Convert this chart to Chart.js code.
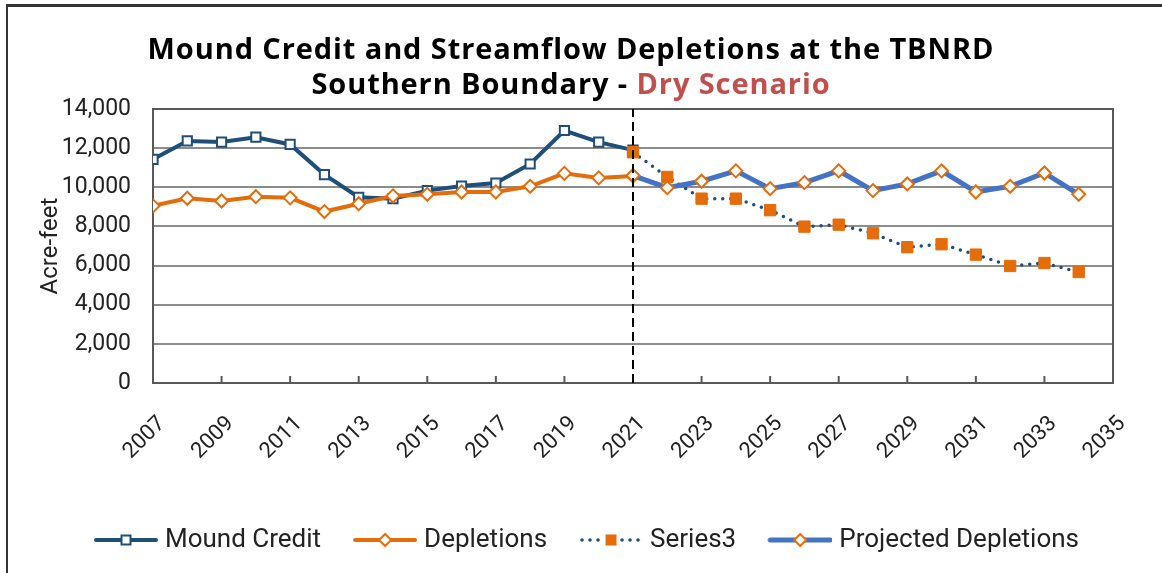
<!DOCTYPE html>
<html>
<head>
<meta charset="utf-8">
<script src="https://cdn.jsdelivr.net/npm/chart.js@4.4.1/dist/chart.umd.min.js"></script>
<style>
    html, body { margin: 0; padding: 0; background: #fff; }
    #wrap { position: relative; width: 1162px; height: 573px; overflow: hidden; background: #fff; }
    #chart { position: absolute; left: 0; top: 0; }
    #frame {
        position: absolute; left: 6px; top: 4px; width: 1200px; height: 600px;
        border-left: 2px solid #333; border-top: 3px solid #333;
        pointer-events: none;
    }
    #title {
        position: absolute; left: 0; top: 30px; width: 1142px; text-align: center;
        font-family: "Open Sans", sans-serif; font-weight: 700; font-size: 29px; line-height: 35px;
        letter-spacing: 0.9px; color: #000;
    }
    #title .dry { color: #C0504D; }
</style>
</head>
<body>
<div id="wrap">
    <canvas id="chart" width="1162" height="573"></canvas>
    <div id="title">Mound Credit and Streamflow Depletions at the TBNRD<br>Southern Boundary - <span class="dry">Dry Scenario</span></div>
    <div id="frame"></div>
</div>
<script>
// historical years and values
const YEARS_HIST = [2007, 2008, 2009, 2010, 2011, 2012, 2013, 2014, 2015, 2016, 2017, 2018, 2019, 2020, 2021];
const MOUND_CREDIT = [11430, 12370, 12310, 12560, 12190, 10650, 9490, 9420, 9830, 10060, 10220, 11190, 12900, 12310, 11900];
const DEPLETIONS = [9050, 9440, 9300, 9520, 9460, 8760, 9160, 9560, 9640, 9760, 9760, 10050, 10710, 10480, 10580];

// projection years and values
const YEARS_PROJ = [2021, 2022, 2023, 2024, 2025, 2026, 2027, 2028, 2029, 2030, 2031, 2032, 2033, 2034];
const SERIES3 = [11790, 10530, 9420, 9420, 8830, 7990, 8090, 7650, 6940, 7090, 6560, 5980, 6130, 5670];
const PROJECTED = [10600, 9980, 10310, 10840, 9930, 10240, 10840, 9830, 10170, 10840, 9760, 10050, 10730, 9640];

// axis settings
const X_MIN = 2007, X_MAX = 2035, X_STEP = 2;
const Y_MIN = 0, Y_MAX = 14000, Y_STEP = 2000;
const DIVIDER_YEAR = 2021;

const NAVY = '#1F4E79';
const ORANGE = '#E46C0A';
const BLUE = '#4472C4';

const toPoints = (years, values) => years.map((yr, i) => ({ x: yr, y: values[i] }));

// legend symbol: line with marker in the middle, with empty space on the left as item gap
const ICON_GAP = 36, ICON_W = 64, ICON_PULL = 12;
function legendSymbol(kind) {
    const w = ICON_W, h = 22, gap = ICON_GAP;
    const cv = document.createElement('canvas');
    cv.width = gap + w;
    cv.height = h;
    const c = cv.getContext('2d');
    const cy = h / 2, cx = gap + w / 2;
    c.lineCap = 'round';
    if (kind === 'series3') {
        c.fillStyle = NAVY;
        for (let x = gap + 3; x < gap + w; x += 8) {
            if (Math.abs(x - cx) < 9) continue;
            c.beginPath();
            c.arc(x, cy, 1.8, 0, Math.PI * 2);
            c.fill();
        }
        c.fillStyle = ORANGE;
        c.fillRect(cx - 5.5, cy - 5.5, 11, 11);
        return cv;
    }
    const color = kind === 'mound' ? NAVY : kind === 'depl' ? ORANGE : BLUE;
    c.strokeStyle = color;
    c.lineWidth = kind === 'proj' ? 5 : 4;
    c.beginPath();
    c.moveTo(gap + 2, cy);
    c.lineTo(gap + w - 2, cy);
    c.stroke();
    c.fillStyle = '#fff';
    c.lineWidth = 2;
    if (kind === 'mound') {
        c.strokeStyle = NAVY;
        c.fillRect(cx - 4.5, cy - 4.5, 9, 9);
        c.strokeRect(cx - 4.5, cy - 4.5, 9, 9);
    } else {
        c.strokeStyle = ORANGE;
        c.beginPath();
        c.moveTo(cx, cy - 6);
        c.lineTo(cx + 6, cy);
        c.lineTo(cx, cy + 6);
        c.lineTo(cx - 6, cy);
        c.closePath();
        c.fill();
        c.stroke();
    }
    return cv;
}

const LEGEND_ICONS = [legendSymbol('mound'), legendSymbol('depl'), legendSymbol('series3'), legendSymbol('proj')];

// plot border and small inward tick marks on the bottom axis
const plotFrame = {
    id: 'plotFrame',
    beforeDatasetsDraw(chart) {
        const { ctx, chartArea } = chart;
        const xScale = chart.scales.x;
        ctx.save();
        ctx.strokeStyle = '#595959';
        ctx.lineWidth = 2;
        ctx.strokeRect(chartArea.left, chartArea.top, chartArea.right - chartArea.left, chartArea.bottom - chartArea.top);
        ctx.beginPath();
        xScale.ticks.forEach(t => {
            if (t.value === X_MIN || t.value === X_MAX) return;
            const px = xScale.getPixelForValue(t.value);
            ctx.moveTo(px, chartArea.bottom);
            ctx.lineTo(px, chartArea.bottom - 7);
        });
        ctx.stroke();
        ctx.restore();
    }
};

const ctx = document.getElementById('chart').getContext('2d');
const chart = new Chart(ctx, {
    type: 'line',
    data: {
        datasets: [
            {
                label: 'Mound Credit',
                data: toPoints(YEARS_HIST, MOUND_CREDIT),
                borderColor: NAVY,
                borderWidth: 4,
                pointStyle: 'rect',
                pointRadius: 6.5,
                pointBackgroundColor: '#fff',
                pointBorderColor: NAVY,
                pointBorderWidth: 2,
                order: 4
            },
            {
                label: 'Depletions',
                data: toPoints(YEARS_HIST, DEPLETIONS),
                borderColor: ORANGE,
                borderWidth: 4,
                pointStyle: 'rectRot',
                pointRadius: 6.5,
                pointBackgroundColor: '#fff',
                pointBorderColor: ORANGE,
                pointBorderWidth: 2,
                order: 3
            },
            {
                label: 'Series3',
                data: toPoints(YEARS_PROJ, SERIES3),
                borderColor: NAVY,
                borderWidth: 3.5,
                borderDash: [0, 8],
                borderCapStyle: 'round',
                pointStyle: 'rect',
                pointRadius: 8,
                pointBackgroundColor: ORANGE,
                pointBorderColor: ORANGE,
                pointBorderWidth: 1,
                order: 2
            },
            {
                label: 'Projected Depletions',
                data: toPoints(YEARS_PROJ, PROJECTED),
                borderColor: BLUE,
                borderWidth: 5,
                pointStyle: 'rectRot',
                pointRadius: 6.5,
                pointBackgroundColor: '#fff',
                pointBorderColor: ORANGE,
                pointBorderWidth: 2,
                order: 1
            },
            {
                label: 'divider',
                data: [{ x: DIVIDER_YEAR, y: Y_MIN }, { x: DIVIDER_YEAR, y: Y_MAX }],
                borderColor: '#000',
                borderWidth: 2,
                borderDash: [9, 5],
                pointRadius: 0,
                order: 0
            }
        ]
    },
    options: {
        responsive: false,
        animation: false,
        layout: { padding: { left: 30, right: 49, top: 109, bottom: 10 } },
        elements: { line: { tension: 0 } },
        plugins: {
            title: { display: false },
            tooltip: { enabled: false },
            legend: {
                position: 'bottom',
                labels: {
                    usePointStyle: true,
                    pointStyleWidth: ICON_GAP + ICON_W - ICON_PULL,
                    padding: 2,
                    color: '#222',
                    font: { family: 'Roboto', size: 26 },
                    filter: item => item.text !== 'divider',
                    sort: (a, b) => a.datasetIndex - b.datasetIndex,
                    generateLabels(ch) {
                        const items = Chart.defaults.plugins.legend.labels.generateLabels(ch);
                        items.forEach(it => {
                            if (it.datasetIndex < LEGEND_ICONS.length) it.pointStyle = LEGEND_ICONS[it.datasetIndex];
                        });
                        return items;
                    }
                }
            }
        },
        scales: {
            x: {
                type: 'linear',
                min: X_MIN,
                max: X_MAX,
                grid: { display: false },
                border: { display: false },
                ticks: {
                    stepSize: X_STEP,
                    minRotation: 45,
                    maxRotation: 45,
                    padding: 20,
                    labelOffset: 9,
                    color: '#222',
                    font: { family: 'Roboto', size: 22 },
                    callback: v => String(v)
                },
                afterFit: scale => { scale.height = 142; }
            },
            y: {
                min: Y_MIN,
                max: Y_MAX,
                grid: { color: '#8c8c8c', lineWidth: 2, drawTicks: false },
                border: { display: false },
                ticks: {
                    stepSize: Y_STEP,
                    padding: 22,
                    color: '#222',
                    font: { family: 'Roboto', size: 23 },
                    callback: v => v.toLocaleString('en-US')
                },
                title: {
                    display: true,
                    text: 'Acre-feet',
                    color: '#222',
                    font: { family: 'Roboto', size: 24 },
                    padding: { top: 7, bottom: 0 }
                },
                afterFit: scale => { scale.width = 123; }
            }
        }
    },
    plugins: [plotFrame]
});
</script>
</body>
</html>
